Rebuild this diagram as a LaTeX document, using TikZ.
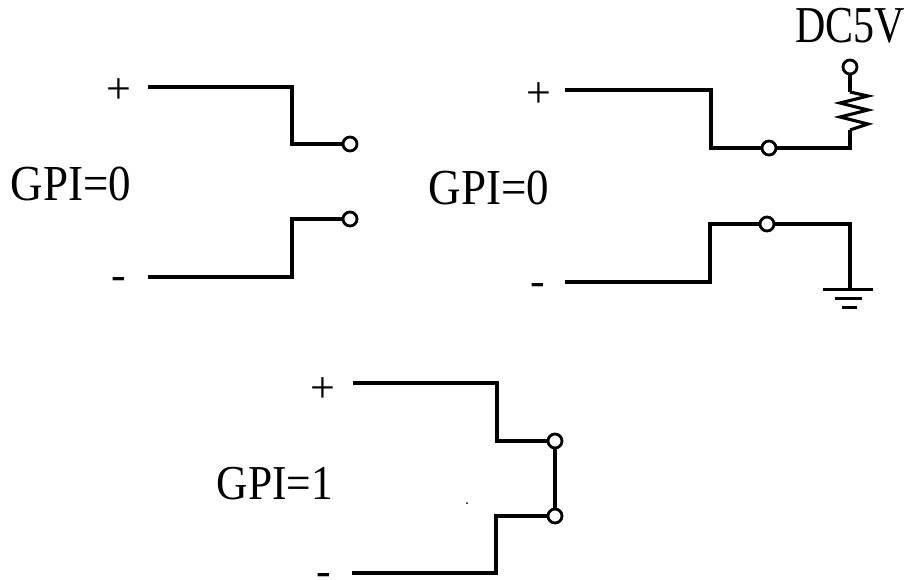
\documentclass[tikz,border=0pt]{standalone}
\usepackage{fontspec}
\setmainfont{Liberation Serif}
\tikzset{
  wire/.style={line width=3.1pt,black,line cap=butt,line join=miter},
  term/.style={circle,draw=black,fill=white,line width=2.8pt,minimum size=14pt,inner sep=0pt},
  lab/.style={inner sep=0pt,font=\fontsize{45}{45}\selectfont,text=black,yscale=1.12},
  sign/.style={inner sep=0pt,font=\fontsize{44}{44}\selectfont,text=black},
  gnd/.style={line width=3pt,black},
}
\begin{document}
\begin{tikzpicture}[x=1pt,y=-1pt]
\useasboundingbox (0,0) rectangle (909,579);
% left pair
\node[sign] (p1) at (119,91) {+};
\node[sign] (m1) at (119,283) {-};
\node[lab] (g1) at (71,184) {GPI=0};
\coordinate (a1) at (148,87);
\coordinate (a2) at (148,277);
\node[term] (t1) at (350,144) {};
\node[term] (t2) at (350,219) {};
\draw[wire] (a1) -- (292,87) -- (292,144) -- (t1);
\draw[wire] (a2) -- (292,277) -- (292,219) -- (t2);
% right pair
\node[sign] (p2) at (539,95) {+};
\node[sign] (m2) at (538,289) {-};
\node[lab] (g2) at (489,188) {GPI=0};
\node[lab,font=\fontsize{42}{42}\selectfont,yscale=1.1] (dc) at (850,26) {DC5V};
\coordinate (b1) at (565,90);
\coordinate (b2) at (565,282);
\node[term] (t3) at (769,148) {};
\node[term] (t4) at (767,224) {};
\node[term] (t5) at (850,67) {};
\coordinate (rt) at (850,92);
\coordinate (rb) at (850,130);
\coordinate (gn) at (850,289);
\draw[wire] (b1) -- (711,90) -- (711,148) -- (t3);
\draw[wire] (t3) -- (850,148) -- (rb);
\draw[wire] (t5) -- (rt);
\draw[wire] (rt) -- (868,96) -- (840,103) -- (868,110) -- (840,117) -- (868,124) -- (rb);
\draw[wire] (b2) -- (710,282) -- (710,224) -- (t4);
\draw[wire] (t4) -- (850,224) -- (gn);
\draw[gnd] (823,289) -- (873,289);
\draw[gnd] (835,298) -- (862,298);
\draw[gnd] (842,307) -- (857,307);
% bottom pair
\node[sign] (p3) at (323,390) {+};
\node[sign] (m3) at (324,579) {-};
\node[lab,font=\fontsize{43.5}{43.5}\selectfont] (g3) at (275,484) {GPI=1};
\coordinate (c1) at (353,383);
\coordinate (c2) at (352,573);
\node[term] (t6) at (555,441) {};
\node[term] (t7) at (555,516) {};
\draw[wire] (c1) -- (497,383) -- (497,441) -- (t6);
\draw[wire] (c2) -- (496,573) -- (496,516) -- (t7);
\draw[wire] (t6) -- (t7);
\fill[black] (467,503) circle (1pt);
\end{tikzpicture}
\end{document}
